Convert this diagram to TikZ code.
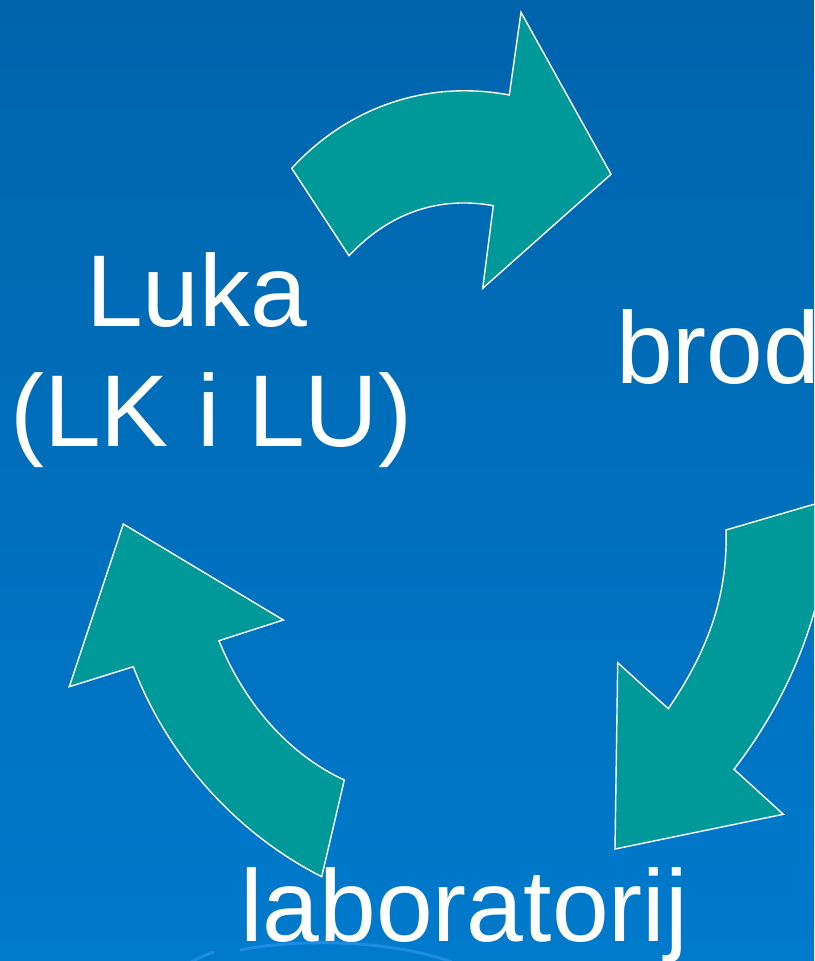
\documentclass[tikz,border=0pt]{standalone}
\usepackage{fontspec}
\setmainfont{Liberation Sans}
\definecolor{bgtop}{RGB}{0,100,172}
\definecolor{bgbot}{RGB}{0,122,204}
\definecolor{teal}{RGB}{0,153,153}
\definecolor{faint}{RGB}{30,140,228}
\tikzset{
  cyclearrow/.style={fill=teal, draw=white, line width=1.4pt, line join=miter},
  label/.style={text=white, inner sep=0pt, anchor=base west, font=\fontsize{102}{122}\selectfont}
}
\begin{document}
\begin{tikzpicture}[x=1pt,y=-1pt]
\useasboundingbox (0,0) rectangle (814,961);
\shade[top color=bgtop, bottom color=bgbot] (0,0) rectangle (814,961);
\begin{scope}
\clip (0,0) rectangle (814,961);
% faint arcs at bottom
\draw[faint, line width=3pt] (240,950) .. controls (300,938) and (390,940) .. (452,962);
\draw[faint, line width=3pt] (188,964) .. controls (196,959) and (205,955) .. (214,952);
% top arrow
\draw[cyclearrow] (291.7,168.3) -- (349,255.7)
  .. controls (390,212) and (440,196) .. (493.3,205.7)
  -- (482.7,288.3) -- (611,174.3) -- (521,12.3) -- (509.3,95)
  .. controls (430,80) and (350,105) .. cycle;
% right arrow
\draw[cyclearrow] (726,530)
  .. controls (728,600) and (705,655) .. (668.3,708.7)
  -- (617.7,662.7) -- (615,849) -- (783.3,814.3) -- (734,769.3)
  .. controls (795,690) and (828,600) .. (832,499) -- cycle;
% left arrow
\draw[cyclearrow] (123.3,524) -- (283.3,620) -- (219,640.7)
  .. controls (245,705) and (290,755) .. (344.3,780)
  -- (321.7,876.7)
  .. controls (230,830) and (165,750) .. (133.3,666.7)
  -- (69.3,686.7) -- cycle;
\end{scope}
\node[label] (luka) at (86,326) {Luka};
\node[label] (lklu) at (10,446.7) {(LK i LU)};
\node[label] (brod) at (616,383) {brod};
\node[label] (lab) at (240,941.7) {laboratorij};
\end{tikzpicture}
\end{document}
